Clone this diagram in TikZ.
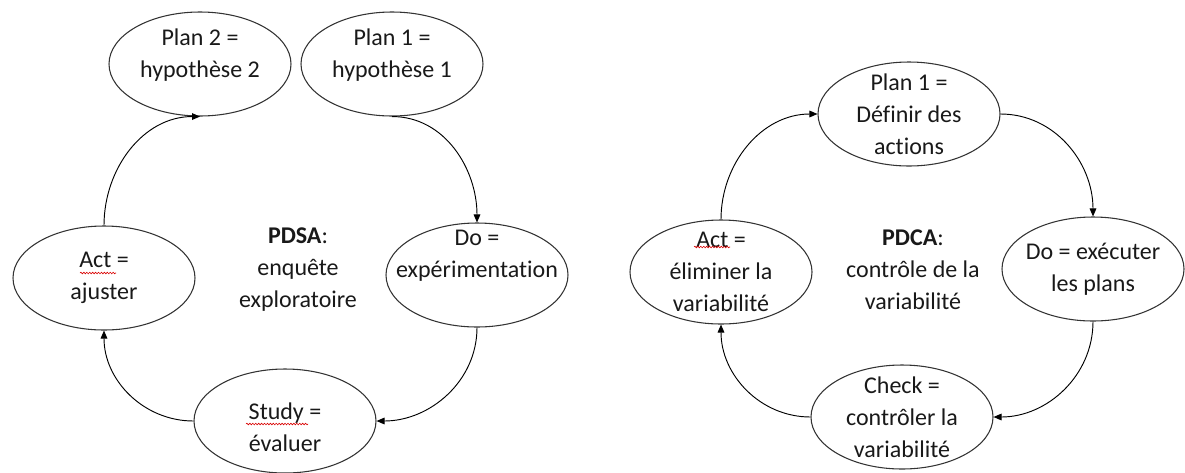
\documentclass[tikz,border=0pt]{standalone}
\usepackage{fontspec}
\setmainfont[RawFeature=-liga]{Carlito}
\usetikzlibrary{shapes.geometric,arrows.meta,decorations.pathmorphing}
\begin{document}
\begin{tikzpicture}[x=0.75pt,y=-0.75pt,
  ell/.style={ellipse,draw=black!80,line width=0.8pt,minimum width=136.5pt,minimum height=78pt,inner sep=0pt},
  txt/.style={align=center,inner sep=0pt,font=\fontsize{18pt}{24pt}\selectfont,text=black!90},
  arr/.style={line width=0.7pt,-{Triangle[length=6pt,width=5pt]}},
  squig/.style={red!85!black,line width=0.45pt,decorate,decoration={snake,amplitude=0.6pt,segment length=2.2pt}}]
\useasboundingbox (0,0) rectangle (1185,472);
% ---- left: PDSA ----
\node[ell] (p2) at (200,64) {};
\node[txt] (p2t) at (p2.center) {Plan 2 =\\hypothèse 2\\[-8pt]};
\node[ell] (p1) at (392,64) {};
\node[txt] (p1t) at (p1.center) {Plan 1 =\\hypothèse 1\\[-8pt]};
\node[ell] (do) at (477,275) {};
\node[txt] (dot) at (do.center) {Do =\\expérimentation\\\strut};
\node[ell] (act) at (104,278) {};
\node[txt] (actt) at (act.center) {Act =\\ajuster};
\node[ell] (st) at (285,421) {};
\node[txt] (stt) at ([yshift=-5pt]st.center) {Study =\\évaluer};
\node[txt] (pdsa) at (298,270) {\textbf{PDSA}:\\enquête\\exploratoire};
\draw[arr] (p1.south) to[out=0,in=90] (do.north);
\draw[arr] (do.south) to[out=-90,in=0] (st.east);
\draw[arr] (st.west) to[out=180,in=-90] (act.south);
\draw[arr] (act.north) to[out=90,in=180] (p2.south);
\coordinate (sq1a) at (80,273); \coordinate (sq1b) at (116,273);
\draw[squig] (sq1a) -- (sq1b);
\coordinate (sq2a) at (246,424); \coordinate (sq2b) at (308,424);
\draw[squig] (sq2a) -- (sq2b);
% ---- right: PDCA ----
\node[ell] (q1) at (909,114) {};
\node[txt] (q1t) at (q1.center) {Plan 1 =\\Définir des\\actions};
\node[ell] (qdo) at (1093,269) {};
\node[txt] (qdot) at (qdo.center) {Do = exécuter\\les plans};
\node[ell] (qact) at (721,272) {};
\node[txt] (qactt) at (qact.center) {Act =\\éliminer la\\variabilité};
\node[ell] (ck) at (902,417) {};
\node[txt] (ckt) at (ck.center) {Check =\\contrôler la\\variabilité};
\node[txt] (pdca) at (913,270) {\textbf{PDCA}:\\contrôle de la\\variabilité};
\draw[arr] (qact.north) to[out=90,in=180] (q1.west);
\draw[arr] (q1.east) to[out=0,in=90] (qdo.north);
\draw[arr] (qdo.south) to[out=-90,in=0] (ck.east);
\draw[arr] (ck.west) to[out=180,in=-90] (qact.south);
\coordinate (sq3a) at (694,247); \coordinate (sq3b) at (730,247);
\draw[squig] (sq3a) -- (sq3b);
\end{tikzpicture}
\end{document}
